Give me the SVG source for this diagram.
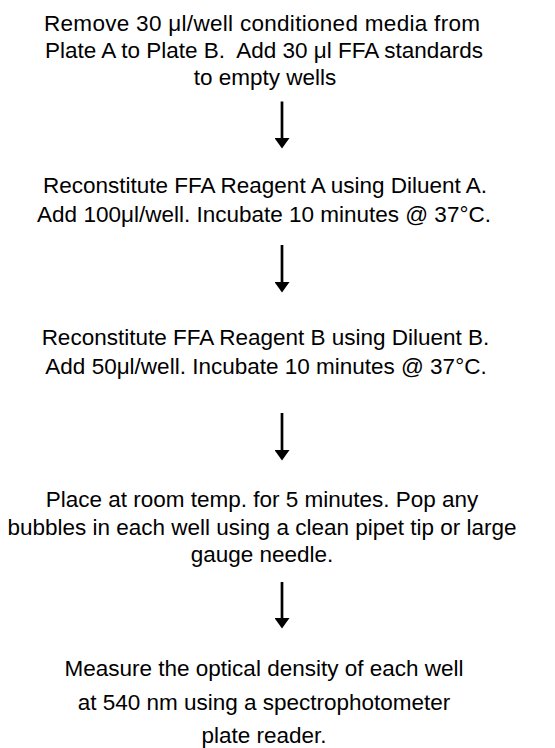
<svg xmlns="http://www.w3.org/2000/svg" width="555" height="748" viewBox="0 0 555 748">
  <style>
    .t { font-family: "Liberation Sans", Arial, sans-serif; font-size: 22.5px; fill: #000; text-anchor: middle; }
    .c { stroke: #000; stroke-width: 2.7; fill: none; }
  </style>
  <defs>
    <marker id="ah" viewBox="0 0 10.5 15" refX="0" refY="7.5" markerWidth="10.5" markerHeight="15" markerUnits="userSpaceOnUse" orient="auto">
      <path d="M0,0 L10.5,7.5 L0,15 Z" fill="#000"/>
    </marker>
  </defs>
  <rect width="555" height="748" fill="#fff"/>

  <g id="step1">
    <text class="t" x="262" y="31" textLength="436" lengthAdjust="spacing">Remove 30 μl/well conditioned media from</text>
    <text class="t" x="264" y="58" xml:space="preserve">Plate A to Plate B.  Add 30 μl FFA standards</text>
    <text class="t" x="265" y="85">to empty wells</text>
  </g>
  <g id="step2">
    <text class="t" x="265" y="193">Reconstitute FFA Reagent A using Diluent A.</text>
    <text class="t" x="264" y="222">Add 100μl/well. Incubate 10 minutes @ 37°C.</text>
  </g>
  <g id="step3">
    <text class="t" x="265.5" y="345">Reconstitute FFA Reagent B using Diluent B.</text>
    <text class="t" x="266" y="373.5">Add 50μl/well. Incubate 10 minutes @ 37°C.</text>
  </g>
  <g id="step4">
    <text class="t" x="262" y="506.5">Place at room temp. for 5 minutes. Pop any</text>
    <text class="t" x="262" y="535">bubbles in each well using a clean pipet tip or large</text>
    <text class="t" x="262" y="562">gauge needle.</text>
  </g>
  <g id="step5">
    <text class="t" x="264" y="676">Measure the optical density of each well</text>
    <text class="t" x="264" y="709.5">at 540 nm using a spectrophotometer</text>
    <text class="t" x="264" y="743">plate reader.</text>
  </g>

  <g id="connectors">
    <line class="c" x1="282" y1="101.5" x2="282" y2="138" marker-end="url(#ah)"/>
    <line class="c" x1="282" y1="245" x2="282" y2="282" marker-end="url(#ah)"/>
    <line class="c" x1="282" y1="413" x2="282" y2="450" marker-end="url(#ah)"/>
    <line class="c" x1="282" y1="582" x2="282" y2="618" marker-end="url(#ah)"/>
  </g>
</svg>
